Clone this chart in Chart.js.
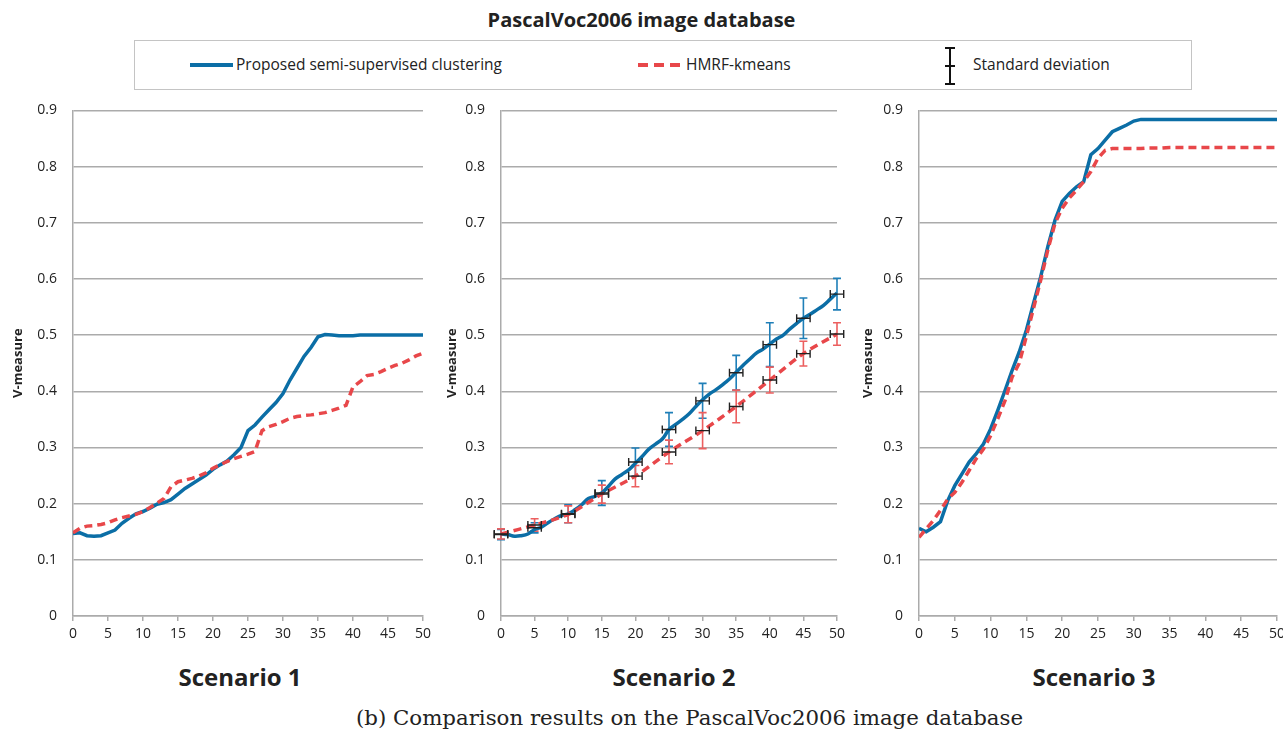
<!DOCTYPE html>
<html>
<head>
<meta charset="utf-8">
<script src="https://cdn.jsdelivr.net/npm/chart.js@4"></script>
<style>
  html, body { margin: 0; padding: 0; background: #fff; overflow: hidden; }
  body { width: 1283px; height: 738px; position: relative; font-family: 'Open Sans', sans-serif; color: #222; }
  .abs { position: absolute; }
  #title { left: 0; width: 1283px; top: 6px; text-align: center; font-weight: bold; font-size: 20px; }
  #legend { left: 134px; top: 40px; width: 1056px; height: 48px; border: 1.5px solid #c4c4c4; }
  .lg-text { font-size: 15.5px; top: 53px; }
  .scen { font-weight: bold; font-size: 24px; top: 660px; transform: translateX(-50%); white-space: nowrap; }
  #caption { left: 356px; top: 705px; font-family: 'DejaVu Serif', serif; font-size: 21.3px; white-space: nowrap; }
  canvas { position: absolute; }
</style>
</head>
<body>
<div id="title" class="abs">PascalVoc2006 image database</div>
<div id="legend" class="abs"></div>
<div class="abs" style="left:190px;top:63px;width:43px;height:4px;background:#0b6ea6;"></div>
<div class="abs lg-text" style="left:236px;">Proposed semi-supervised clustering</div>
<div class="abs" style="left:638px;top:63px;width:10px;height:4px;background:#e8474a;"></div>
<div class="abs" style="left:654px;top:63px;width:10px;height:4px;background:#e8474a;"></div>
<div class="abs" style="left:670px;top:63px;width:10px;height:4px;background:#e8474a;"></div>
<div class="abs lg-text" style="left:686px;">HMRF-kmeans</div>
<div class="abs" style="left:949px;top:47px;width:2px;height:38px;background:#111;"></div>
<div class="abs" style="left:945px;top:47px;width:10px;height:2px;background:#111;"></div>
<div class="abs" style="left:945px;top:83px;width:10px;height:2px;background:#111;"></div>
<div class="abs" style="left:945px;top:65px;width:10px;height:2px;background:#111;"></div>
<div class="abs lg-text" style="left:973px;">Standard deviation</div>

<canvas id="c1" width="440" height="564" style="left:0;top:86px;"></canvas>
<canvas id="c2" width="420" height="564" style="left:430px;top:86px;"></canvas>
<canvas id="c3" width="430" height="564" style="left:860px;top:86px;"></canvas>

<div class="abs scen" style="left:240px;">Scenario 1</div>
<div class="abs scen" style="left:674px;">Scenario 2</div>
<div class="abs scen" style="left:1094px;">Scenario 3</div>
<div id="caption" class="abs">(b) Comparison results on the PascalVoc2006 image database</div>

<script>
// x positions (number of constraints)
const xFull = Array.from({ length: 51 }, (_, i) => i);
const xMarks = [0, 5, 10, 15, 20, 25, 30, 35, 40, 45, 50];
const yTicks = [0, 0.1, 0.2, 0.3, 0.4, 0.5, 0.6, 0.7, 0.8, 0.9];

// Scenario 1
const s1Proposed = [0.147, 0.148, 0.143, 0.142, 0.143, 0.148, 0.153, 0.165, 0.174, 0.182,
    0.186, 0.192, 0.199, 0.202, 0.207, 0.217, 0.227, 0.235, 0.243, 0.251,
    0.261, 0.269, 0.276, 0.287, 0.300, 0.330, 0.340, 0.354, 0.367, 0.380,
    0.396, 0.420, 0.441, 0.462, 0.478, 0.497, 0.501, 0.500, 0.499, 0.499,
    0.499, 0.500, 0.500, 0.500, 0.500, 0.500, 0.500, 0.500, 0.500, 0.500, 0.500];
const s1Hmrf = [0.148, 0.156, 0.160, 0.161, 0.163, 0.166, 0.171, 0.175, 0.178, 0.181,
    0.186, 0.193, 0.201, 0.209, 0.230, 0.239, 0.242, 0.245, 0.249, 0.255,
    0.263, 0.269, 0.275, 0.280, 0.284, 0.288, 0.293, 0.330, 0.337, 0.341,
    0.346, 0.352, 0.355, 0.357, 0.358, 0.360, 0.362, 0.366, 0.370, 0.375,
    0.408, 0.417, 0.428, 0.430, 0.435, 0.441, 0.446, 0.450, 0.456, 0.463, 0.468];

// Scenario 2
const s2Proposed = [0.146, 0.145, 0.142, 0.143, 0.146, 0.154, 0.158, 0.166, 0.173, 0.179,
    0.182, 0.189, 0.198, 0.209, 0.213, 0.219, 0.231, 0.244, 0.252, 0.260,
    0.272, 0.284, 0.297, 0.306, 0.315, 0.332, 0.341, 0.350, 0.360, 0.373,
    0.385, 0.395, 0.403, 0.412, 0.422, 0.434, 0.446, 0.457, 0.468, 0.475,
    0.484, 0.493, 0.500, 0.511, 0.521, 0.530, 0.537, 0.545, 0.553, 0.564, 0.575];
const s2ProposedMean = [0.145, 0.157, 0.182, 0.219, 0.274, 0.332, 0.383, 0.433, 0.483, 0.530, 0.573];
const s2ProposedStd = [0.009, 0.009, 0.016, 0.022, 0.025, 0.030, 0.031, 0.031, 0.039, 0.036, 0.028];
const s2Hmrf = [0.146, 0.162, 0.181, 0.217, 0.249, 0.292, 0.330, 0.373, 0.420, 0.467, 0.502];
const s2HmrfStd = [0.009, 0.011, 0.015, 0.016, 0.019, 0.021, 0.032, 0.029, 0.023, 0.022, 0.020];
const s2XStd = [1, 1, 1, 1, 1, 1, 1, 1, 1, 1, 1];

// Scenario 3
const s3Proposed = [0.156, 0.150, 0.158, 0.168, 0.205, 0.232, 0.253, 0.274, 0.289, 0.306,
    0.333, 0.366, 0.401, 0.437, 0.470, 0.509, 0.557, 0.604, 0.658, 0.705,
    0.738, 0.752, 0.764, 0.773, 0.821, 0.832, 0.847, 0.862, 0.868, 0.874,
    0.881, 0.884, 0.884, 0.884, 0.884, 0.884, 0.884, 0.884, 0.884, 0.884,
    0.884, 0.884, 0.884, 0.884, 0.884, 0.884, 0.884, 0.884, 0.884, 0.884, 0.884];
const s3Hmrf = [0.140, 0.155, 0.170, 0.188, 0.208, 0.220, 0.238, 0.259, 0.280, 0.297,
    0.321, 0.351, 0.383, 0.425, 0.450, 0.498, 0.548, 0.598, 0.652, 0.699,
    0.726, 0.744, 0.758, 0.773, 0.791, 0.815, 0.829, 0.832, 0.832, 0.832,
    0.832, 0.832, 0.833, 0.833, 0.833, 0.834, 0.834, 0.834, 0.834, 0.834,
    0.834, 0.834, 0.834, 0.834, 0.834, 0.834, 0.834, 0.834, 0.834, 0.834, 0.834];

const BLUE = '#0b6ea6';
const RED = '#e8474a';
const GRID = '#ababab';
const FONT = 'Open Sans';

function pts(xs, ys) {
    return ys.map((y, i) => ({ x: xs[i], y: y }));
}

function lineSet(label, xs, ys, color, dashed, tension) {
    return {
        label: label,
        data: pts(xs, ys),
        borderColor: color,
        backgroundColor: color,
        borderWidth: 3.5,
        borderDash: dashed ? [8, 5] : [],
        pointRadius: 0,
        tension: tension,
        fill: false
    };
}

// error bars for scenario 2, drawn through the chart scales
const errorBars = {
    id: 'errorBars',
    beforeDatasetsDraw(chart) {
        const xs = chart.scales.x, ys = chart.scales.y, ctx = chart.ctx;
        const groups = [
            { mean: s2ProposedMean, std: s2ProposedStd, color: '#1f7fb8' },
            { mean: s2Hmrf, std: s2HmrfStd, color: '#ec5f5f' }
        ];
        ctx.save();
        ctx.lineWidth = 1.6;
        groups.forEach(g => {
            ctx.strokeStyle = g.color;
            xMarks.forEach((xv, i) => {
                const px = xs.getPixelForValue(xv);
                const top = ys.getPixelForValue(g.mean[i] + g.std[i]);
                const bot = ys.getPixelForValue(g.mean[i] - g.std[i]);
                ctx.beginPath();
                ctx.moveTo(px, top); ctx.lineTo(px, bot);
                ctx.moveTo(px - 4, top); ctx.lineTo(px + 4, top);
                ctx.moveTo(px - 4, bot); ctx.lineTo(px + 4, bot);
                ctx.stroke();
            });
        });
        ctx.restore();
    },
    afterDatasetsDraw(chart) {
        const xs = chart.scales.x, ys = chart.scales.y, ctx = chart.ctx;
        ctx.save();
        ctx.lineWidth = 1.4;
        ctx.strokeStyle = '#222';
        [s2ProposedMean, s2Hmrf].forEach(mean => {
            xMarks.forEach((xv, i) => {
                const py = ys.getPixelForValue(mean[i]);
                const l = xs.getPixelForValue(xv - s2XStd[i]);
                const r = xs.getPixelForValue(xv + s2XStd[i]);
                ctx.beginPath();
                ctx.moveTo(l, py); ctx.lineTo(r, py);
                ctx.moveTo(l, py - 4); ctx.lineTo(l, py + 4);
                ctx.moveTo(r, py - 4); ctx.lineTo(r, py + 4);
                ctx.stroke();
            });
        });
        ctx.restore();
    }
};

function makeChart(id, datasets, yWidth, titlePad, rightPad, plugins) {
    return new Chart(document.getElementById(id), {
        type: 'line',
        data: { datasets: datasets },
        plugins: plugins || [],
        options: {
            responsive: false,
            animation: false,
            layout: { padding: { top: 10, right: rightPad, left: 0, bottom: 0 } },
            plugins: { legend: { display: false }, tooltip: { enabled: false } },
            scales: {
                x: {
                    type: 'linear',
                    min: 0, max: 50,
                    afterFit: s => { s.height = 34; },
                    ticks: { stepSize: 5, padding: 5, color: '#222', font: { family: FONT, size: 14 } },
                    grid: { drawOnChartArea: false, drawTicks: true, tickLength: 5, color: GRID, lineWidth: 1.5 },
                    border: { color: GRID, width: 1.5 }
                },
                y: {
                    min: 0, max: 0.9,
                    afterFit: s => { s.width = yWidth; },
                    afterBuildTicks: s => { s.ticks = yTicks.map(v => ({ value: v })); },
                    ticks: {
                        padding: 16, color: '#222',
                        font: { family: FONT, size: 14 },
                        callback: v => String(Math.round(v * 10) / 10)
                    },
                    grid: { drawTicks: false, color: GRID, lineWidth: 1.5 },
                    border: { color: GRID, width: 1.5 },
                    title: {
                        display: true, text: 'V-measure', color: '#222',
                        font: { family: FONT, size: 13, weight: 'bold' },
                        padding: { top: titlePad, bottom: 0 }
                    }
                }
            }
        }
    });
}

makeChart('c1', [
    lineSet('HMRF-kmeans', xFull, s1Hmrf, RED, true, 0),
    lineSet('Proposed semi-supervised clustering', xFull, s1Proposed, BLUE, false, 0)
], 73, 10, 17);

makeChart('c2', [
    lineSet('HMRF-kmeans', xMarks, s2Hmrf, RED, true, 0.3),
    lineSet('Proposed semi-supervised clustering', xFull, s2Proposed, BLUE, false, 0.4)
], 71, 14, 10, [errorBars]);

makeChart('c3', [
    lineSet('HMRF-kmeans', xFull, s3Hmrf, RED, true, 0),
    lineSet('Proposed semi-supervised clustering', xFull, s3Proposed, BLUE, false, 0)
], 59, 0, 12);
</script>
</body>
</html>
